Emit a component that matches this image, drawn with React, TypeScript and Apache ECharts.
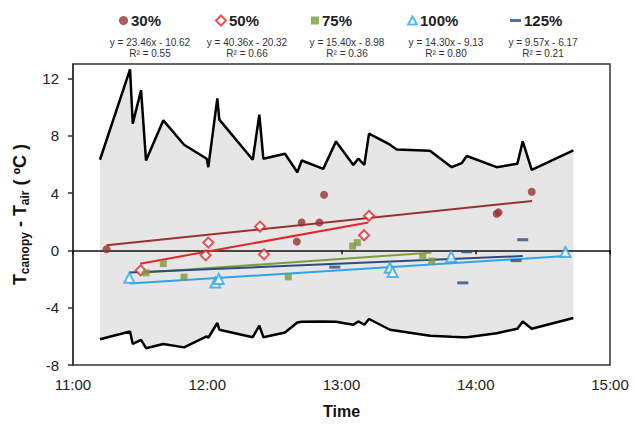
import React, { useEffect, useRef } from "react";
import * as echarts from "echarts";

// Envelope (time in hours, upper and lower bounds of Tcanopy - Tair)
const envTimes = [11.201, 11.425, 11.445, 11.507, 11.544, 11.673, 11.827, 11.996, 12.008, 12.075, 12.09, 12.339, 12.388, 12.418, 12.579, 12.671, 12.704, 12.864, 12.959, 13.088, 13.125, 13.17, 13.205, 13.361, 13.411, 13.659, 13.821, 13.895, 13.933, 14.156, 14.31, 14.35, 14.417, 14.727];
const envUpper = [6.32, 12.63, 8.84, 11.18, 6.27, 9.07, 7.37, 6.39, 5.8, 10.6, 9.12, 6.32, 9.47, 6.39, 6.74, 5.45, 6.27, 5.68, 7.6, 5.96, 6.39, 5.96, 8.14, 7.37, 7.04, 6.95, 5.8, 6.08, 6.58, 5.8, 6.04, 7.6, 5.61, 6.97];
const envLower = [-6.2, -5.66, -6.53, -6.25, -6.83, -6.53, -6.77, -6.01, -6.1, -5.07, -5.54, -6.06, -5.26, -6.06, -5.73, -5.03, -4.98, -4.96, -4.98, -5.19, -4.96, -5.19, -4.79, -5.54, -5.61, -5.96, -6.03, -6.06, -6.06, -5.78, -5.47, -4.96, -5.47, -4.72];

// Scatter points [hour, value]
const p30 = [[11.25, 0.07], [12.667, 0.61], [12.703, 1.94], [12.835, 1.94], [12.87, 3.88], [14.156, 2.55], [14.17, 2.65], [14.417, 4.09]];
const p50 = [[11.504, -1.4], [11.988, -0.35], [12.008, 0.54], [12.393, 1.66], [12.423, -0.28], [13.168, 1.05], [13.205, 2.41]];
const p75 = [[11.544, -1.57], [11.673, -0.93], [11.827, -1.87], [12.604, -1.85], [13.083, 0.3], [13.118, 0.54], [13.605, -0.44], [13.672, -0.75]];
const p100 = [[11.42, -1.92], [12.06, -2.25], [12.085, -2.0], [13.36, -1.22], [13.381, -1.52], [13.817, -0.44], [14.668, -0.12]];
const p125 = [[12.95, -1.17], [13.903, -2.27], [13.933, -0.1], [14.3, -0.72], [14.35, 0.74]];

// Trend line endpoints
const t30 = [[11.25, 0.35], [14.42, 3.45]];
const t50 = [[11.5, -0.93], [13.2, 1.94]];
const t75 = [[11.54, -1.54], [13.67, -0.16]];
const t100 = [[11.42, -2.32], [14.67, -0.4]];
const t125 = [[11.42, -1.55], [14.35, -0.4]];

const seriesNames = ["30%", "50%", "75%", "100%", "125%"];
const equations = ["y = 23.46x - 10.62", "y = 40.36x - 20.32", "y = 15.40x - 8.98", "y = 14.30x - 9.13", "y = 9.57x - 6.17"];
const rSquared = ["R² = 0.55", "R² = 0.66", "R² = 0.36", "R² = 0.80", "R² = 0.21"];
const xTickHours = [11, 12, 13, 14, 15];

const FONT = "'Liberation Sans', Arial, sans-serif";
const colors = ["#983232", "#e4262a", "#7d9b3c", "#2ea6e6", "#2b4c7e"];
const legendLeft = [119, 215, 311, 407, 510];
const legendIconSize = [[9, 9], [10, 10], [8, 8], [9, 8], [11, 3]];
const eqCenters = [150, 247, 347, 446, 543];

export default function App() {
  const ref = useRef<HTMLDivElement>(null);
  useEffect(() => {
    if (!ref.current) return;
    const chart = echarts.init(ref.current, null, { renderer: "svg" });
    const lowerData = envTimes.map((t, i) => [t, envLower[i]]);
    const upperData = envTimes.map((t, i) => [t, envUpper[i]]);

    const symbols: any[] = [
      { symbol: "circle", symbolSize: 8, itemStyle: { color: colors[0] } },
      { symbol: "emptyDiamond", symbolSize: 10, itemStyle: { color: colors[1], borderWidth: 2 } },
      { symbol: "rect", symbolSize: 7, itemStyle: { color: colors[2] } },
      { symbol: "emptyTriangle", symbolSize: 10, itemStyle: { color: colors[3], borderWidth: 1.5 } },
      { symbol: "rect", symbolSize: [11, 3], itemStyle: { color: colors[4] } },
    ];
    const points = [p30, p50, p75, p100, p125];
    const trends = [t30, t50, t75, t100, t125];

    const scatterSeries = seriesNames.map((n, i) => ({
      name: n,
      type: "scatter",
      data: points[i],
      z: 6,
      ...symbols[i],
    }));
    const trendSeries = seriesNames.map((n, i) => ({
      name: n + " trend",
      type: "line",
      data: trends[i],
      symbol: "none",
      z: 5,
      lineStyle: { color: colors[i], width: 2 },
    }));

    const legends = seriesNames.map((n, i) => ({
      data: [n],
      left: legendLeft[i],
      top: 13,
      padding: 0,
      itemWidth: legendIconSize[i][0],
      itemHeight: legendIconSize[i][1],
      itemGap: 4,
      textStyle: { fontFamily: FONT, fontSize: 15, fontWeight: "bold", color: "#222", padding: [0, 0, 0, -2] },
    }));

    const graphics: any[] = [];
    seriesNames.forEach((_, i) => {
      graphics.push({
        type: "text",
        x: eqCenters[i],
        y: 37,
        style: { text: equations[i], fontFamily: FONT, fontSize: 10, fill: "#333", align: "center" },
      });
      graphics.push({
        type: "text",
        x: eqCenters[i],
        y: 48,
        style: { text: rSquared[i], fontFamily: FONT, fontSize: 10, fill: "#333", align: "center" },
      });
    });

    chart.setOption({
      animation: false,
      backgroundColor: "#fff",
      textStyle: { fontFamily: FONT },
      legend: legends,
      graphic: graphics,
      grid: {
        left: 73,
        right: 24,
        top: 64,
        bottom: 63,
        show: true,
        borderColor: "#333",
        borderWidth: 1.5,
        backgroundColor: "transparent",
      },
      xAxis: [
        {
          type: "value",
          min: 11,
          max: 15,
          interval: 1,
          position: "bottom",
          axisLine: { show: false, onZero: false },
          axisTick: { show: false },
          splitLine: { show: false },
          axisLabel: {
            fontFamily: FONT,
            fontSize: 15,
            color: "#222",
            margin: 12,
            formatter: (v: number) => (xTickHours.includes(v) ? `${v}:00` : ""),
          },
          name: "Time",
          nameLocation: "middle",
          nameGap: 38,
          nameTextStyle: { fontFamily: FONT, fontSize: 16, fontWeight: "bold", color: "#111" },
        },
        {
          type: "value",
          min: 11,
          max: 15,
          interval: 1,
          position: "bottom",
          z: 4,
          axisLine: { show: true, onZero: true, lineStyle: { color: "#111", width: 1.5 } },
          axisTick: { show: true, length: 4, lineStyle: { color: "#111", width: 1.5 } },
          axisLabel: { show: false },
          splitLine: { show: false },
        },
      ],
      yAxis: {
        type: "value",
        min: -8,
        max: 13,
        interval: 4,
        axisLine: { show: true, onZero: false, lineStyle: { color: "#333", width: 1.5 } },
        axisTick: { show: true, length: 5, lineStyle: { color: "#333", width: 1.5 } },
        splitLine: { show: false },
        axisLabel: { fontFamily: FONT, fontSize: 15, color: "#222", margin: 14, showMaxLabel: false },
        name: "{m|T}{s|canopy}{m| - T}{s|air}{m| ( ºC )}",
        nameLocation: "middle",
        nameRotate: 90,
        nameGap: 42,
        nameTextStyle: {
          fontFamily: FONT,
          fontWeight: "bold",
          color: "#111",
          rich: {
            m: { fontFamily: FONT, fontSize: 18, fontWeight: "bold", color: "#111", lineHeight: 22, verticalAlign: "middle" },
            s: { fontFamily: FONT, fontSize: 12, fontWeight: "bold", color: "#111", lineHeight: 22, verticalAlign: "bottom", padding: [8, 0, 0, 0] },
          },
        },
      },
      series: [
        {
          name: "band",
          type: "custom",
          data: [0],
          z: 1,
          silent: true,
          renderItem: (_params: any, api: any) => {
            const top = envTimes.map((t, i) => api.coord([t, envUpper[i]]));
            const bottom = envTimes.map((t, i) => api.coord([t, envLower[i]])).reverse();
            return {
              type: "polygon",
              shape: { points: top.concat(bottom) },
              style: { fill: "#e6e6e6", stroke: "none" },
            };
          },
        },
        {
          name: "upper",
          type: "line",
          data: upperData,
          symbol: "none",
          lineStyle: { color: "#000", width: 2.5 },
          z: 3,
        },
        {
          name: "lower",
          type: "line",
          data: lowerData,
          symbol: "none",
          lineStyle: { color: "#000", width: 2.5 },
          z: 3,
        },
        ...trendSeries,
        ...scatterSeries,
      ],
    });
    return () => chart.dispose();
  }, []);
  return <div ref={ref} style={{ width: 634, height: 428, position: "absolute", left: 0, top: 0 }} />;
}
